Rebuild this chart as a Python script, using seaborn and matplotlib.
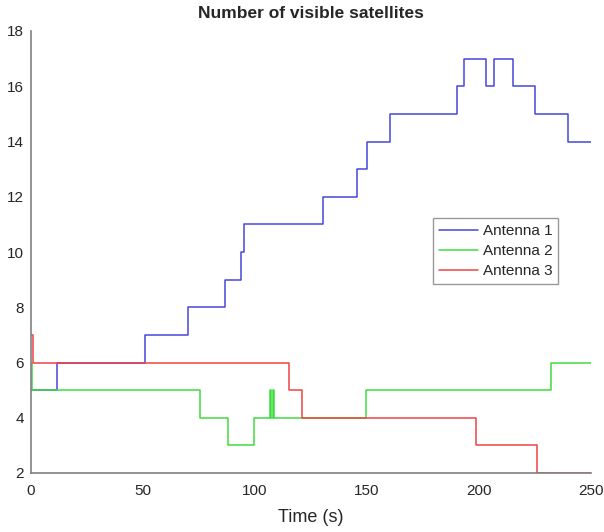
import matplotlib
matplotlib.use("Agg")
import matplotlib.pyplot as plt
import seaborn as sns
import pandas as pd

# Step data (time in s, number of satellites), value holds until next time
t_ant1 = [0, 11.6, 50.9, 70.3, 86.7, 93.7, 95.3, 130.4, 145.5, 149.9, 160.4, 190.2, 193.6, 203.3, 207.0, 215.4, 225.1, 240.0, 250]
v_ant1 = [5, 6, 7, 8, 9, 10, 11, 12, 13, 14, 15, 16, 17, 16, 17, 16, 15, 14, 14]

t_ant2 = [0, 0.4, 75.6, 87.9, 99.6, 106.7, 107.0, 108.1, 108.4, 149.6, 232.1, 250]
v_ant2 = [6, 5, 4, 3, 4, 5, 4, 5, 4, 5, 6, 6]

t_ant3 = [0, 0.8, 115.2, 121.2, 198.6, 226.1, 250]
v_ant3 = [7, 6, 5, 4, 3, 2, 2]

labels = ["Antenna 1", "Antenna 2", "Antenna 3"]
colors = ["#4646dc", "#3ddc3d", "#ee4444"]

frames = []
for lab, t, v in zip(labels, [t_ant1, t_ant2, t_ant3], [v_ant1, v_ant2, v_ant3]):
    frames.append(pd.DataFrame({"Time": t, "Sats": v, "Antenna": lab}))
df = pd.concat(frames, ignore_index=True)

sns.set_style("white")
plt.rcParams["font.family"] = ["Liberation Sans", "DejaVu Sans"]

fig = plt.figure(figsize=(6.04, 5.32), dpi=100)
ax = fig.add_axes([31 / 604, 1 - 473 / 532, 559.7 / 604, 442 / 532])

sns.lineplot(data=df, x="Time", y="Sats", hue="Antenna", palette=colors,
             estimator=None, sort=False, drawstyle="steps-post", linewidth=1.1,
             ax=ax)

ax.set_xlim(0, 250)
ax.set_ylim(2, 18)
ax.set_xticks([0, 50, 100, 150, 200, 250])
ax.set_yticks(list(range(2, 19, 2)))
ax.tick_params(direction="in", length=4, width=0.8, colors="#808080",
               labelcolor="#262626", labelsize=11)
ax.tick_params(axis="x", pad=8)
ax.tick_params(axis="y", pad=5)
for s in ["top", "right"]:
    ax.spines[s].set_visible(False)
for s in ["left", "bottom"]:
    ax.spines[s].set_color("#808080")
    ax.spines[s].set_linewidth(1.2)

ax.set_title("Number of visible satellites", fontsize=12.5, fontweight="bold", pad=9)
ax.set_xlabel("Time (s)", fontsize=13, color="#262626", labelpad=8)
ax.set_ylabel("")

leg = ax.legend(loc="upper left", bbox_to_anchor=(0.718, 0.577), borderaxespad=0,
                frameon=True, fontsize=11, handlelength=2.55, handletextpad=0.3,
                labelspacing=0.4, borderpad=0.4, fancybox=False)
leg.get_frame().set_edgecolor("#808080")
leg.get_frame().set_linewidth(1.0)
for t in leg.get_texts():
    t.set_color("#262626")

fig.savefig("out.png", dpi=100)
